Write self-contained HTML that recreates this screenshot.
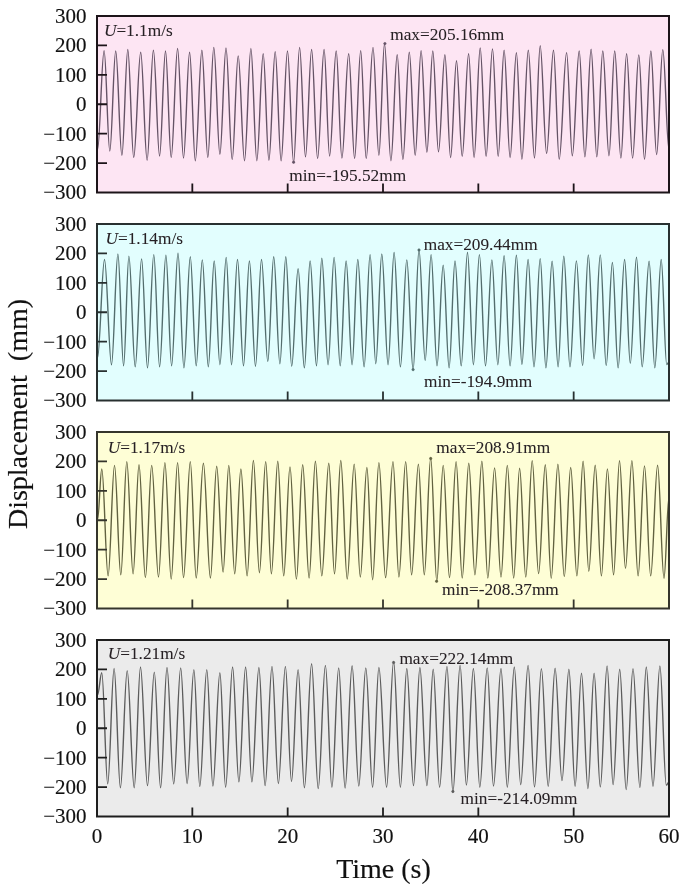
<!DOCTYPE html><html><head><meta charset="utf-8"><title>Displacement time histories</title><style>html,body{margin:0;padding:0;background:#fff;width:685px;height:886px;overflow:hidden;}svg{display:block;filter:blur(0.3px);}text{font-family:"Liberation Serif",serif;}.t{font-size:21px;fill:#111;stroke:#111;stroke-width:0.15px;}.T{font-size:28px;fill:#111;stroke:#111;stroke-width:0.15px;}.a{font-size:17.3px;fill:#262024;stroke:#262024;stroke-width:0.05px;}.u{font-size:17.3px;}</style></head><body>
<svg width="685" height="886" viewBox="0 0 685 886">
<rect width="685" height="886" fill="#fff"/>
<rect x="97.0" y="16.0" width="572.0" height="176.5" fill="#fde5f3"/>
<path d="M97.5 150.0C99.9 150.0 101.7 50.6 104.1 50.6C106.2 50.6 107.7 151.1 109.8 151.1C111.9 151.1 113.6 51.0 115.7 51.0C118.0 51.0 119.6 155.4 121.9 155.4C124.0 155.4 125.7 49.5 127.8 49.5C129.9 49.5 131.6 157.5 133.7 157.5C136.2 157.5 138.2 52.3 140.7 52.3C143.0 52.3 144.8 160.2 147.1 160.2C149.4 160.2 151.1 50.2 153.4 50.2C155.7 50.2 157.3 156.0 159.6 156.0C161.7 156.0 163.4 51.0 165.5 51.0C167.6 51.0 169.1 157.5 171.2 157.5C173.5 157.5 175.3 48.5 177.6 48.5C179.7 48.5 181.4 158.1 183.5 158.1C185.7 158.1 187.4 52.3 189.6 52.3C191.7 52.3 193.2 160.7 195.3 160.7C197.7 160.7 199.5 50.2 201.9 50.2C204.0 50.2 205.7 157.5 207.8 157.5C210.0 157.5 211.6 47.4 213.8 47.4C216.0 47.4 217.7 154.3 219.9 154.3C222.1 154.3 223.8 48.0 226.0 48.0C228.3 48.0 229.9 159.6 232.2 159.6C234.4 159.6 236.0 55.9 238.2 55.9C240.5 55.9 242.2 160.7 244.5 160.7C246.8 160.7 248.6 48.5 250.9 48.5C253.0 48.5 254.7 160.7 256.8 160.7C259.1 160.7 260.9 53.8 263.2 53.8C265.3 53.8 266.8 160.2 268.9 160.2C271.2 160.2 272.9 51.6 275.2 51.6C277.3 51.6 279.0 160.7 281.1 160.7C283.4 160.7 285.2 51.0 287.5 51.0C289.7 51.0 291.4 162.4 293.6 162.4C295.8 162.4 297.4 47.4 299.6 47.4C301.7 47.4 303.4 156.9 305.5 156.9C307.7 156.9 309.4 49.5 311.6 49.5C313.8 49.5 315.4 158.5 317.6 158.5C320.0 158.5 321.7 49.5 324.1 49.5C326.1 49.5 327.6 156.0 329.6 156.0C332.0 156.0 333.8 51.0 336.2 51.0C338.3 51.0 339.8 158.1 341.9 158.1C344.4 158.1 346.2 53.8 348.7 53.8C350.8 53.8 352.5 158.5 354.6 158.5C356.8 158.5 358.5 50.6 360.7 50.6C362.7 50.6 364.2 158.5 366.2 158.5C368.7 158.5 370.5 47.4 373.0 47.4C375.1 47.4 376.8 155.4 378.9 155.4C380.9 155.4 382.5 43.8 384.5 43.8C386.8 43.8 388.6 160.7 390.9 160.7C393.2 160.7 394.9 54.8 397.2 54.8C399.3 54.8 400.8 159.6 402.9 159.6C405.2 159.6 407.0 52.3 409.3 52.3C411.4 52.3 413.1 155.4 415.2 155.4C417.3 155.4 419.0 50.6 421.1 50.6C423.2 50.6 424.8 152.2 426.9 152.2C429.0 152.2 430.7 51.0 432.8 51.0C434.9 51.0 436.4 151.8 438.5 151.8C440.8 151.8 442.6 54.8 444.9 54.8C447.0 54.8 448.5 157.5 450.6 157.5C452.7 157.5 454.4 60.7 456.5 60.7C458.6 60.7 460.1 156.4 462.2 156.4C464.5 156.4 466.3 53.8 468.6 53.8C470.6 53.8 472.1 157.5 474.1 157.5C476.3 157.5 478.0 48.0 480.2 48.0C482.3 48.0 484.0 156.4 486.1 156.4C488.4 156.4 490.2 48.9 492.5 48.9C494.6 48.9 496.1 156.4 498.2 156.4C500.3 156.4 502.0 50.2 504.1 50.2C506.3 50.2 507.9 157.5 510.1 157.5C512.4 157.5 514.1 52.7 516.4 52.7C518.4 52.7 519.9 159.2 521.9 159.2C524.2 159.2 526.0 50.3 528.3 50.3C530.6 50.3 532.2 158.0 534.5 158.0C536.6 158.0 538.1 45.7 540.2 45.7C542.5 45.7 544.3 153.5 546.6 153.5C549.1 153.5 551.0 50.3 553.5 50.3C555.6 50.3 557.1 159.2 559.2 159.2C561.9 159.2 563.9 52.6 566.6 52.6C568.7 52.6 570.2 155.7 572.3 155.7C574.8 155.7 576.7 51.0 579.2 51.0C581.3 51.0 582.8 156.9 584.9 156.9C587.2 156.9 588.8 49.2 591.1 49.2C593.2 49.2 594.7 156.9 596.8 156.9C599.0 156.9 600.6 51.0 602.8 51.0C605.1 51.0 606.7 155.7 609.0 155.7C611.1 155.7 612.6 51.0 614.7 51.0C617.0 51.0 618.6 158.0 620.9 158.0C623.0 158.0 624.5 53.8 626.6 53.8C628.8 53.8 630.4 158.0 632.6 158.0C634.9 158.0 636.5 54.9 638.8 54.9C640.9 54.9 642.4 159.2 644.5 159.2C646.8 159.2 648.6 51.0 650.9 51.0C653.0 51.0 654.5 154.6 656.6 154.6C658.9 154.6 660.5 49.6 662.8 49.6C665.1 49.6 666.7 150.0 669.0 150.0" fill="none" stroke="#655366" stroke-width="1.4" stroke-linejoin="round"/>
<circle cx="384.9" cy="43.6" r="1.2" fill="#655366" stroke="#655366" stroke-width="0.6"/>
<circle cx="293.6" cy="162.2" r="1.2" fill="#655366" stroke="#655366" stroke-width="0.6"/>
<path d="M97.0 45.42H107.0M97.0 74.83H107.0M97.0 104.25H107.0M97.0 133.67H107.0M97.0 163.08H107.0M192.33 192.50V183.50M287.67 192.50V183.50M383.00 192.50V183.50M478.33 192.50V183.50M573.67 192.50V183.50" stroke="#1c1419" stroke-width="1.8" fill="none"/>
<rect x="97.0" y="16.0" width="572.0" height="176.5" fill="none" stroke="#1c1419" stroke-width="2"/>
<text class="t" x="86.5" y="22.8" text-anchor="end">300</text>
<text class="t" x="86.5" y="52.2" text-anchor="end">200</text>
<text class="t" x="86.5" y="81.6" text-anchor="end">100</text>
<text class="t" x="86.5" y="111.0" text-anchor="end">0</text>
<text class="t" x="86.5" y="140.5" text-anchor="end">&#8722;100</text>
<text class="t" x="86.5" y="169.9" text-anchor="end">&#8722;200</text>
<text class="t" x="86.5" y="199.3" text-anchor="end">&#8722;300</text>
<text class="a u" x="103.9" y="36.2"><tspan font-style="italic">U</tspan>=1.1m/s</text>
<text class="a" x="390.2" y="40.1">max=205.16mm</text>
<text class="a" x="289.3" y="180.7">min=-195.52mm</text>
<rect x="97.0" y="224.0" width="572.0" height="176.5" fill="#e2fefe"/>
<path d="M97.5 358.0C100.0 358.0 102.0 259.5 104.5 259.5C107.0 259.5 109.0 364.7 111.5 364.7C113.8 364.7 115.6 254.0 117.9 254.0C120.0 254.0 121.5 365.8 123.6 365.8C125.5 365.8 127.0 256.1 128.9 256.1C131.2 256.1 132.9 366.8 135.2 366.8C137.5 366.8 139.3 258.9 141.6 258.9C143.7 258.9 145.4 367.9 147.5 367.9C149.8 367.9 151.5 254.6 153.8 254.6C155.9 254.6 157.5 366.8 159.6 366.8C161.9 366.8 163.6 255.3 165.9 255.3C168.0 255.3 169.5 365.8 171.6 365.8C173.9 365.8 175.7 253.2 178.0 253.2C180.1 253.2 181.8 367.9 183.9 367.9C186.2 367.9 188.0 256.8 190.3 256.8C192.4 256.8 194.1 365.8 196.2 365.8C198.4 365.8 200.1 259.9 202.3 259.9C204.5 259.9 206.1 366.8 208.3 366.8C210.4 366.8 212.1 261.0 214.2 261.0C216.3 261.0 217.8 364.7 219.9 364.7C222.2 364.7 223.9 257.4 226.2 257.4C228.1 257.4 229.6 364.7 231.5 364.7C233.7 364.7 235.3 259.5 237.5 259.5C239.7 259.5 241.3 365.8 243.5 365.8C245.6 365.8 247.3 261.0 249.4 261.0C251.6 261.0 253.3 366.2 255.5 366.2C257.7 366.2 259.3 259.5 261.5 259.5C263.8 259.5 265.5 361.5 267.8 361.5C269.9 361.5 271.6 256.8 273.7 256.8C276.0 256.8 277.6 363.7 279.9 363.7C282.0 363.7 283.7 256.8 285.8 256.8C287.9 256.8 289.6 366.2 291.7 366.2C294.0 366.2 295.8 268.8 298.1 268.8C300.4 268.8 302.1 367.9 304.4 367.9C306.5 367.9 308.0 261.0 310.1 261.0C312.4 261.0 314.2 365.8 316.5 365.8C318.4 365.8 319.9 258.2 321.8 258.2C324.1 258.2 325.8 364.7 328.1 364.7C330.3 364.7 331.9 257.4 334.1 257.4C336.3 257.4 338.0 365.8 340.2 365.8C342.3 365.8 344.0 261.0 346.1 261.0C348.3 261.0 349.9 364.7 352.1 364.7C354.2 364.7 355.7 259.5 357.8 259.5C360.1 259.5 361.8 366.8 364.1 366.8C366.3 366.8 367.9 254.6 370.1 254.6C372.2 254.6 373.7 363.7 375.8 363.7C378.0 363.7 379.6 254.0 381.8 254.0C384.1 254.0 385.8 364.7 388.1 364.7C390.3 364.7 391.9 252.5 394.1 252.5C396.4 252.5 398.1 366.8 400.4 366.8C402.7 366.8 404.5 259.9 406.8 259.9C409.1 259.9 410.8 370.0 413.1 370.0C415.2 370.0 416.9 249.8 419.0 249.8C421.3 249.8 422.9 360.5 425.2 360.5C427.3 360.5 429.0 254.6 431.1 254.6C433.2 254.6 434.9 365.8 437.0 365.8C439.3 365.8 440.9 265.2 443.2 265.2C445.3 265.2 447.0 367.9 449.1 367.9C451.2 367.9 452.9 261.0 455.0 261.0C457.3 261.0 458.9 365.8 461.2 365.8C463.5 365.8 465.2 252.5 467.5 252.5C469.6 252.5 471.3 364.7 473.4 364.7C475.6 364.7 477.2 254.6 479.4 254.6C481.6 254.6 483.3 365.8 485.5 365.8C487.8 365.8 489.6 259.9 491.9 259.9C494.0 259.9 495.7 364.7 497.8 364.7C500.1 364.7 501.8 255.7 504.1 255.7C506.3 255.7 507.9 365.8 510.1 365.8C512.4 365.8 514.1 255.3 516.4 255.3C518.4 255.3 519.9 364.5 521.9 364.5C524.2 364.5 525.8 259.5 528.1 259.5C530.2 259.5 531.9 366.8 534.0 366.8C536.3 366.8 537.9 258.6 540.2 258.6C542.3 258.6 543.8 367.9 545.9 367.9C548.2 367.9 549.8 261.3 552.1 261.3C554.3 261.3 555.9 366.8 558.1 366.8C560.2 366.8 561.7 256.3 563.8 256.3C566.1 256.3 567.7 366.8 570.0 366.8C572.3 366.8 574.1 260.9 576.4 260.9C578.7 260.9 580.3 365.6 582.6 365.6C584.7 365.6 586.2 254.9 588.3 254.9C590.4 254.9 592.0 358.7 594.1 358.7C596.4 358.7 598.0 254.9 600.3 254.9C602.4 254.9 604.1 365.6 606.2 365.6C608.5 365.6 610.1 262.5 612.4 262.5C614.5 262.5 616.0 367.9 618.1 367.9C620.5 367.9 622.2 259.5 624.6 259.5C626.7 259.5 628.2 363.3 630.3 363.3C632.6 363.3 634.2 257.2 636.5 257.2C638.6 257.2 640.1 366.8 642.2 366.8C644.7 366.8 646.6 261.3 649.1 261.3C651.2 261.3 652.7 367.9 654.8 367.9C657.1 367.9 658.9 259.5 661.2 259.5C663.2 259.5 664.7 364.5 666.7 364.5C667.5 364.5 668.2 362.0 669.0 362.0" fill="none" stroke="#536d6d" stroke-width="1.4" stroke-linejoin="round"/>
<circle cx="419.0" cy="250.0" r="1.2" fill="#536d6d" stroke="#536d6d" stroke-width="0.6"/>
<circle cx="413.1" cy="369.6" r="1.2" fill="#536d6d" stroke="#536d6d" stroke-width="0.6"/>
<path d="M97.0 253.42H107.0M97.0 282.83H107.0M97.0 312.25H107.0M97.0 341.67H107.0M97.0 371.08H107.0M192.33 400.50V391.50M287.67 400.50V391.50M383.00 400.50V391.50M478.33 400.50V391.50M573.67 400.50V391.50" stroke="#283030" stroke-width="1.8" fill="none"/>
<rect x="97.0" y="224.0" width="572.0" height="176.5" fill="none" stroke="#283030" stroke-width="2"/>
<text class="t" x="86.5" y="230.8" text-anchor="end">300</text>
<text class="t" x="86.5" y="260.2" text-anchor="end">200</text>
<text class="t" x="86.5" y="289.6" text-anchor="end">100</text>
<text class="t" x="86.5" y="319.1" text-anchor="end">0</text>
<text class="t" x="86.5" y="348.5" text-anchor="end">&#8722;100</text>
<text class="t" x="86.5" y="377.9" text-anchor="end">&#8722;200</text>
<text class="t" x="86.5" y="407.3" text-anchor="end">&#8722;300</text>
<text class="a u" x="105.5" y="244.3"><tspan font-style="italic">U</tspan>=1.14m/s</text>
<text class="a" x="423.7" y="250.4">max=209.44mm</text>
<text class="a" x="424.1" y="386.6">min=-194.9mm</text>
<rect x="97.0" y="432.0" width="572.0" height="176.5" fill="#fefed6"/>
<path d="M97.5 520.0C99.1 520.0 100.2 469.0 101.8 469.0C104.1 469.0 105.8 575.9 108.1 575.9C110.4 575.9 112.2 465.4 114.5 465.4C116.8 465.4 118.5 574.8 120.8 574.8C123.0 574.8 124.6 461.6 126.8 461.6C129.1 461.6 130.8 573.8 133.1 573.8C135.2 573.8 136.9 464.8 139.0 464.8C141.3 464.8 143.1 577.6 145.4 577.6C147.7 577.6 149.4 465.4 151.7 465.4C154.2 465.4 156.0 577.0 158.5 577.0C160.8 577.0 162.6 462.6 164.9 462.6C167.2 462.6 168.9 579.1 171.2 579.1C173.5 579.1 175.3 462.6 177.6 462.6C179.7 462.6 181.4 577.6 183.5 577.6C186.0 577.6 187.8 461.6 190.3 461.6C192.4 461.6 194.1 578.0 196.2 578.0C198.8 578.0 200.8 463.3 203.4 463.3C205.9 463.3 207.9 578.0 210.4 578.0C212.7 578.0 214.4 466.2 216.7 466.2C219.0 466.2 220.8 572.1 223.1 572.1C225.2 572.1 226.7 465.4 228.8 465.4C230.9 465.4 232.6 573.8 234.7 573.8C237.0 573.8 238.6 469.0 240.9 469.0C243.2 469.0 244.8 575.9 247.1 575.9C249.4 575.9 251.1 460.5 253.4 460.5C255.6 460.5 257.2 572.7 259.4 572.7C261.7 572.7 263.4 461.6 265.7 461.6C267.8 461.6 269.3 573.8 271.4 573.8C273.7 573.8 275.5 461.2 277.8 461.2C279.9 461.2 281.6 575.9 283.7 575.9C286.0 575.9 287.7 466.9 290.0 466.9C292.3 466.9 294.1 579.1 296.4 579.1C298.7 579.1 300.4 464.8 302.7 464.8C305.0 464.8 306.8 578.0 309.1 578.0C311.4 578.0 313.1 461.2 315.4 461.2C317.7 461.2 319.5 575.9 321.8 575.9C324.3 575.9 326.3 463.3 328.8 463.3C330.9 463.3 332.4 573.8 334.5 573.8C336.8 573.8 338.5 460.5 340.8 460.5C343.1 460.5 344.9 579.1 347.2 579.1C349.7 579.1 351.7 464.1 354.2 464.1C356.4 464.1 358.1 577.0 360.3 577.0C362.7 577.0 364.5 467.5 366.9 467.5C369.0 467.5 370.5 579.7 372.6 579.7C374.9 579.7 376.6 462.6 378.9 462.6C381.3 462.6 383.2 577.6 385.6 577.6C388.3 577.6 390.3 461.6 393.0 461.6C395.1 461.6 396.8 577.0 398.9 577.0C401.4 577.0 403.2 461.6 405.7 461.6C407.8 461.6 409.5 574.8 411.6 574.8C414.1 574.8 415.9 464.1 418.4 464.1C420.5 464.1 422.2 574.8 424.3 574.8C426.6 574.8 428.4 457.8 430.7 457.8C432.9 457.8 434.6 581.2 436.8 581.2C439.1 581.2 440.9 465.4 443.2 465.4C445.5 465.4 447.2 577.6 449.5 577.6C451.9 577.6 453.7 461.6 456.1 461.6C458.3 461.6 460.0 578.0 462.2 578.0C464.6 578.0 466.4 463.3 468.8 463.3C471.0 463.3 472.7 574.8 474.9 574.8C477.4 574.8 479.4 461.2 481.9 461.2C484.0 461.2 485.7 578.0 487.8 578.0C490.3 578.0 492.1 467.9 494.6 467.9C496.9 467.9 498.7 577.0 501.0 577.0C503.3 577.0 505.0 465.4 507.3 465.4C509.6 465.4 511.4 578.0 513.7 578.0C515.8 578.0 517.5 468.2 519.6 468.2C521.9 468.2 523.5 577.1 525.8 577.1C528.1 577.1 529.9 460.6 532.2 460.6C534.5 460.6 536.3 573.6 538.6 573.6C541.0 573.6 542.9 464.8 545.3 464.8C547.4 464.8 549.1 578.2 551.2 578.2C553.6 578.2 555.5 464.3 557.9 464.3C560.2 464.3 562.0 576.6 564.3 576.6C566.6 576.6 568.4 467.5 570.7 467.5C573.0 467.5 574.6 575.9 576.9 575.9C579.2 575.9 580.8 461.3 583.1 461.3C585.2 461.3 586.7 571.3 588.8 571.3C591.1 571.3 592.9 465.2 595.2 465.2C597.5 465.2 599.1 575.9 601.4 575.9C603.6 575.9 605.2 468.9 607.4 468.9C609.7 468.9 611.3 574.8 613.6 574.8C615.7 574.8 617.4 460.6 619.5 460.6C621.7 460.6 623.3 568.4 625.5 568.4C627.8 568.4 629.6 460.6 631.9 460.6C634.2 460.6 635.8 575.9 638.1 575.9C640.4 575.9 642.2 465.9 644.5 465.9C646.8 465.9 648.4 575.9 650.7 575.9C653.2 575.9 655.1 465.2 657.6 465.2C659.9 465.2 661.7 578.2 664.0 578.2C665.8 578.2 667.2 497.0 669.0 497.0" fill="none" stroke="#626240" stroke-width="1.4" stroke-linejoin="round"/>
<circle cx="430.7" cy="458.5" r="1.2" fill="#626240" stroke="#626240" stroke-width="0.6"/>
<circle cx="436.6" cy="581.3" r="1.2" fill="#626240" stroke="#626240" stroke-width="0.6"/>
<path d="M97.0 461.42H107.0M97.0 490.83H107.0M97.0 520.25H107.0M97.0 549.67H107.0M97.0 579.08H107.0M192.33 608.50V599.50M287.67 608.50V599.50M383.00 608.50V599.50M478.33 608.50V599.50M573.67 608.50V599.50" stroke="#35352c" stroke-width="1.8" fill="none"/>
<rect x="97.0" y="432.0" width="572.0" height="176.5" fill="none" stroke="#35352c" stroke-width="2"/>
<text class="t" x="86.5" y="438.8" text-anchor="end">300</text>
<text class="t" x="86.5" y="468.2" text-anchor="end">200</text>
<text class="t" x="86.5" y="497.6" text-anchor="end">100</text>
<text class="t" x="86.5" y="527.0" text-anchor="end">0</text>
<text class="t" x="86.5" y="556.5" text-anchor="end">&#8722;100</text>
<text class="t" x="86.5" y="585.9" text-anchor="end">&#8722;200</text>
<text class="t" x="86.5" y="615.3" text-anchor="end">&#8722;300</text>
<text class="a u" x="107.7" y="452.6"><tspan font-style="italic">U</tspan>=1.17m/s</text>
<text class="a" x="436.3" y="453.4">max=208.91mm</text>
<text class="a" x="442.0" y="595.2">min=-208.37mm</text>
<rect x="97.0" y="640.0" width="572.0" height="176.5" fill="#ebebeb"/>
<path d="M97.5 695.0C99.1 695.0 100.2 672.8 101.8 672.8C103.9 672.8 105.6 783.9 107.7 783.9C110.0 783.9 111.8 668.5 114.1 668.5C116.4 668.5 118.1 787.7 120.4 787.7C122.9 787.7 124.7 670.6 127.2 670.6C129.7 670.6 131.7 787.7 134.2 787.7C136.5 787.7 138.2 667.0 140.5 667.0C143.0 667.0 145.0 785.6 147.5 785.6C150.0 785.6 151.8 672.1 154.3 672.1C156.6 672.1 158.3 787.7 160.6 787.7C162.9 787.7 164.7 667.5 167.0 667.5C169.4 667.5 171.3 783.9 173.7 783.9C176.2 783.9 178.2 667.9 180.7 667.9C183.0 667.9 184.8 783.5 187.1 783.5C189.6 783.5 191.4 669.6 193.9 669.6C196.0 669.6 197.7 786.4 199.8 786.4C202.3 786.4 204.3 669.6 206.8 669.6C209.0 669.6 210.7 786.0 212.9 786.0C215.4 786.0 217.4 672.8 219.9 672.8C222.0 672.8 223.5 787.1 225.6 787.1C228.1 787.1 230.1 667.0 232.6 667.0C234.9 667.0 236.6 781.8 238.9 781.8C241.3 781.8 243.2 667.0 245.6 667.0C247.9 667.0 249.6 781.8 251.9 781.8C254.4 781.8 256.4 667.5 258.9 667.5C261.2 667.5 262.8 785.6 265.1 785.6C267.6 785.6 269.5 666.4 272.0 666.4C274.3 666.4 276.1 783.5 278.4 783.5C280.9 783.5 282.9 666.4 285.4 666.4C287.6 666.4 289.3 781.4 291.5 781.4C293.9 781.4 295.7 669.6 298.1 669.6C300.4 669.6 302.1 787.7 304.4 787.7C307.0 787.7 309.0 663.7 311.6 663.7C314.0 663.7 315.8 788.6 318.2 788.6C320.8 788.6 322.8 665.4 325.4 665.4C327.8 665.4 329.5 787.1 331.9 787.1C334.4 787.1 336.2 667.9 338.7 667.9C341.0 667.9 342.8 788.1 345.1 788.1C347.6 788.1 349.6 665.8 352.1 665.8C354.5 665.8 356.4 786.0 358.8 786.0C361.3 786.0 363.3 667.9 365.8 667.9C368.3 667.9 370.1 787.1 372.6 787.1C374.9 787.1 376.6 667.5 378.9 667.5C381.7 667.5 383.8 787.1 386.6 787.1C389.1 787.1 391.1 661.5 393.6 661.5C396.1 661.5 397.9 787.1 400.4 787.1C402.7 787.1 404.5 668.5 406.8 668.5C409.2 668.5 411.1 785.6 413.5 785.6C415.8 785.6 417.6 667.5 419.9 667.5C422.4 667.5 424.4 785.6 426.9 785.6C429.2 785.6 430.9 669.2 433.2 669.2C435.5 669.2 437.3 787.1 439.6 787.1C442.3 787.1 444.3 666.4 447.0 666.4C449.1 666.4 450.8 792.0 452.9 792.0C455.5 792.0 457.5 665.4 460.1 665.4C462.4 665.4 464.1 785.0 466.4 785.0C468.9 785.0 470.9 668.5 473.4 668.5C475.7 668.5 477.5 787.1 479.8 787.1C482.5 787.1 484.5 667.9 487.2 667.9C489.5 667.9 491.2 786.0 493.5 786.0C496.2 786.0 498.3 668.5 501.0 668.5C503.3 668.5 505.0 787.1 507.3 787.1C509.8 787.1 511.8 667.0 514.3 667.0C516.6 667.0 518.4 784.6 520.7 784.6C523.4 784.6 525.4 665.4 528.1 665.4C530.4 665.4 532.2 786.9 534.5 786.9C537.0 786.9 538.9 668.6 541.4 668.6C543.9 668.6 545.7 786.2 548.2 786.2C550.7 786.2 552.6 668.2 555.1 668.2C557.6 668.2 559.5 780.5 562.0 780.5C564.5 780.5 566.4 669.3 568.9 669.3C571.2 669.3 572.8 786.2 575.1 786.2C577.4 786.2 579.2 673.2 581.5 673.2C583.8 673.2 585.6 788.5 587.9 788.5C590.2 788.5 591.8 673.2 594.1 673.2C596.4 673.2 598.0 786.9 600.3 786.9C602.8 786.9 604.6 665.9 607.1 665.9C609.3 665.9 610.9 784.6 613.1 784.6C615.5 784.6 617.3 669.3 619.7 669.3C622.1 669.3 623.8 789.6 626.2 789.6C628.7 789.6 630.5 668.6 633.0 668.6C635.5 668.6 637.4 787.4 639.9 787.4C642.2 787.4 644.0 667.0 646.3 667.0C648.7 667.0 650.6 786.2 653.0 786.2C655.5 786.2 657.4 665.9 659.9 665.9C662.2 665.9 664.0 785.1 666.3 785.1C667.3 785.1 668.0 782.0 669.0 782.0" fill="none" stroke="#5c5c5c" stroke-width="1.4" stroke-linejoin="round"/>
<circle cx="393.6" cy="662.5" r="1.2" fill="#5c5c5c" stroke="#5c5c5c" stroke-width="0.6"/>
<circle cx="452.9" cy="791.5" r="1.2" fill="#5c5c5c" stroke="#5c5c5c" stroke-width="0.6"/>
<path d="M97.0 669.42H107.0M97.0 698.83H107.0M97.0 728.25H107.0M97.0 757.67H107.0M97.0 787.08H107.0M192.33 816.50V807.50M287.67 816.50V807.50M383.00 816.50V807.50M478.33 816.50V807.50M573.67 816.50V807.50" stroke="#1e1e1e" stroke-width="1.8" fill="none"/>
<rect x="97.0" y="640.0" width="572.0" height="176.5" fill="none" stroke="#1e1e1e" stroke-width="2"/>
<text class="t" x="86.5" y="646.8" text-anchor="end">300</text>
<text class="t" x="86.5" y="676.2" text-anchor="end">200</text>
<text class="t" x="86.5" y="705.6" text-anchor="end">100</text>
<text class="t" x="86.5" y="735.0" text-anchor="end">0</text>
<text class="t" x="86.5" y="764.5" text-anchor="end">&#8722;100</text>
<text class="t" x="86.5" y="793.9" text-anchor="end">&#8722;200</text>
<text class="t" x="86.5" y="823.3" text-anchor="end">&#8722;300</text>
<text class="a u" x="107.7" y="659.4"><tspan font-style="italic">U</tspan>=1.21m/s</text>
<text class="a" x="399.4" y="663.8">max=222.14mm</text>
<text class="a" x="460.6" y="803.8">min=-214.09mm</text>
<text class="t" x="97.0" y="843.3" text-anchor="middle">0</text>
<text class="t" x="192.3" y="843.3" text-anchor="middle">10</text>
<text class="t" x="287.7" y="843.3" text-anchor="middle">20</text>
<text class="t" x="383.0" y="843.3" text-anchor="middle">30</text>
<text class="t" x="478.3" y="843.3" text-anchor="middle">40</text>
<text class="t" x="573.7" y="843.3" text-anchor="middle">50</text>
<text class="t" x="669.0" y="843.3" text-anchor="middle">60</text>
<text class="T" x="383.5" y="877.7" text-anchor="middle">Time (s)</text>
<text class="T" transform="translate(26.5 414) rotate(-90)" text-anchor="middle">Displacement&#160; (mm)</text>
</svg></body></html>
